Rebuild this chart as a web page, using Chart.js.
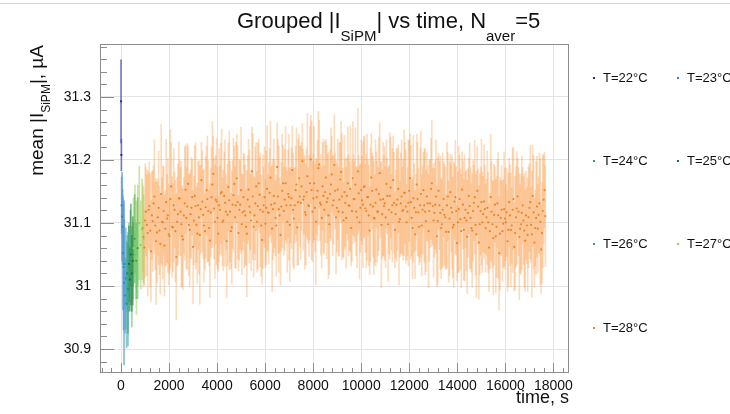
<!DOCTYPE html>
<html>
<head>
<meta charset="utf-8">
<script src="https://cdn.jsdelivr.net/npm/chart.js@4.4.1/dist/chart.umd.min.js"></script>
<style>
  body { margin: 0; background: #fff; }
  #wrap { position: relative; width: 730px; height: 414px; font-family: 'Liberation Sans', Arial, sans-serif; color: #111; }
  #plot { position: absolute; left: 0; top: 0; }
  .title { position: absolute; left: 237px; top: 10px; font-size: 22px; line-height: 22px; white-space: nowrap; }
  .title .sub { font-size: 15px; position: relative; top: 13px; }
  .ytitle { position: absolute; left: 27px; top: 245px; width: 200px; text-align: right; font-size: 19px; line-height: 19px;
            white-space: nowrap; transform: rotate(-90deg); transform-origin: 0 0; }
  .ytitle .sub { font-size: 12px; position: relative; top: 7px; }
  .xtitle { position: absolute; right: 161px; top: 388px; font-size: 18px; line-height: 18px; white-space: nowrap; }
  .leg { position: absolute; font-size: 13px; line-height: 13px; white-space: nowrap; }
  .leg i { position: absolute; left: -10px; top: 6px; width: 2px; height: 2px; }
</style>
</head>
<body>
<div id="wrap">
  <canvas id="plot" width="730" height="414"></canvas>
  <div class="title">Grouped |I<span class="sub">SiPM</span>| vs time, N<span class="sub">aver</span>=5</div>
  <div class="ytitle">mean |I<span class="sub">SiPM</span>|, µA</div>
  <div class="xtitle">time, s</div>
  <div id="legend"></div>
</div>
<script>
// T=22..27 C: short warm-up groups at the start of the run
const t22Time = [0, 15];
const t22Mean = [31.293, 31.208];
const t22Err  = [0.066, 0.025];

const t23Time = [25, 45, 65, 85, 105, 125];
const t23Mean = [31.128, 31.11, 31.094, 31.052, 31.03, 31.005];
const t23Err  = [0.045, 0.07, 0.06, 0.09, 0.10, 0.13];

const t24Time = [140, 170, 200, 230, 260, 290];
const t24Mean = [31.035, 30.985, 31.012, 30.972, 31.02, 30.995];
const t24Err  = [0.07, 0.06, 0.08, 0.07, 0.06, 0.09];

const t25Time = [250, 290, 330, 370, 410, 450, 490];
const t25Mean = [31.02, 30.995, 31.035, 31.01, 31.05, 31.02, 31.04];
const t25Err  = [0.05, 0.07, 0.06, 0.05, 0.08, 0.06, 0.07];

const t26Time = [330, 390, 450, 510, 570, 630, 690];
const t26Mean = [31.03, 31.06, 31.015, 31.05, 31.075, 31.04, 31.06];
const t26Err  = [0.07, 0.06, 0.08, 0.05, 0.07, 0.06, 0.08];

const t27Time = [520, 580, 640, 700, 760, 820, 880, 940];
const t27Mean = [31.06, 31.09, 31.045, 31.08, 31.10, 31.065, 31.09, 31.075];
const t27Err  = [0.08, 0.07, 0.09, 0.08, 0.09, 0.07, 0.08, 0.07];

// T=28 C: long run, one group every 35 s starting at 900 s
const t28Start = 900;
const t28Step = 35;
const t28Mean = [
  31.092, 31.078, 31.061, 31.104, 31.118, 31.097, 31.084, 31.121, 31.127, 31.088, 31.055, 31.112,
  31.103, 31.131, 31.142, 31.096, 31.071, 31.085, 31.109, 31.124, 31.088, 31.067, 31.146, 31.102,
  31.101, 31.119, 31.064, 31.091, 31.133, 31.107, 31.112, 31.082, 31.079, 31.138, 31.158, 31.094,
  31.093, 31.128, 31.121, 31.087, 31.046, 31.102, 31.114, 31.139, 31.139, 31.118, 31.098, 31.079,
  31.074, 31.112, 31.131, 31.153, 31.108, 31.126, 31.162, 31.097, 31.089, 31.114, 31.124, 31.141,
  31.062, 31.104, 31.143, 31.127, 31.097, 31.083, 31.128, 31.109, 31.081, 31.122, 31.168, 31.134,
  31.113, 31.096, 31.087, 31.125, 31.152, 31.138, 31.119, 31.092, 31.072, 31.117, 31.141, 31.161,
  31.178, 31.123, 31.102, 31.137, 31.134, 31.108, 31.083, 31.128, 31.121, 31.147, 31.149, 31.102,
  31.104, 31.143, 31.132, 31.118, 31.071, 31.113, 31.157, 31.136, 31.118, 31.087, 31.093, 31.129,
  31.144, 31.162, 31.109, 31.128, 31.171, 31.133, 31.084, 31.121, 31.129, 31.152, 31.098, 31.117,
  31.141, 31.119, 31.112, 31.094, 31.083, 31.137, 31.153, 31.126, 31.117, 31.104, 31.182, 31.142,
  31.094, 31.112, 31.131, 31.158, 31.102, 31.127, 31.163, 31.145, 31.121, 31.096, 31.073, 31.118,
  31.128, 31.141, 31.099, 31.124, 31.154, 31.117, 31.116, 31.148, 31.172, 31.129, 31.091, 31.122,
  31.143, 31.131, 31.108, 31.096, 31.189, 31.142, 31.122, 31.112, 31.081, 31.126, 31.151, 31.163,
  31.119, 31.137, 31.163, 31.128, 31.102, 31.146, 31.141, 31.097, 31.128, 31.139, 31.184, 31.121,
  31.107, 31.128, 31.152, 31.161, 31.093, 31.133, 31.171, 31.142, 31.132, 31.158, 31.198, 31.137,
  31.142, 31.117, 31.113, 31.149, 31.174, 31.128, 31.127, 31.163, 31.201, 31.152, 31.118, 31.139,
  31.163, 31.124, 31.102, 31.141, 31.151, 31.187, 31.193, 31.132, 31.129, 31.108, 31.158, 31.143,
  31.121, 31.149, 31.172, 31.133, 31.139, 31.112, 31.098, 31.146, 31.161, 31.177, 31.128, 31.136,
  31.192, 31.151, 31.109, 31.124, 31.153, 31.118, 31.137, 31.169, 31.181, 31.142, 31.117, 31.104,
  31.149, 31.132, 31.108, 31.143, 31.163, 31.128, 31.127, 31.154, 31.092, 31.119, 31.171, 31.138,
  31.138, 31.161, 31.118, 31.109, 31.182, 31.147, 31.101, 31.124, 31.152, 31.136, 31.129, 31.157,
  31.158, 31.123, 31.119, 31.141, 31.141, 31.112, 31.088, 31.129, 31.172, 31.151, 31.126, 31.108,
  31.107, 31.132, 31.153, 31.118, 31.118, 31.146, 31.179, 31.137, 31.097, 31.114, 31.138, 31.127,
  31.131, 31.109, 31.162, 31.143, 31.098, 31.121, 31.143, 31.156, 31.117, 31.128, 31.168, 31.132,
  31.089, 31.114, 31.129, 31.137, 31.154, 31.102, 31.106, 31.131, 31.142, 31.119, 31.121, 31.148,
  31.148, 31.126, 31.101, 31.118, 31.132, 31.151, 31.171, 31.133, 31.108, 31.092, 31.139, 31.124,
  31.082, 31.117, 31.161, 31.138, 31.117, 31.094, 31.128, 31.146, 31.096, 31.121, 31.152, 31.128,
  31.118, 31.103, 31.142, 31.131, 31.087, 31.119, 31.131, 31.154, 31.163, 31.127, 31.104, 31.116,
  31.129, 31.142, 31.079, 31.103, 31.151, 31.128, 31.116, 31.092, 31.098, 31.121, 31.138, 31.113,
  31.109, 31.086, 31.128, 31.142, 31.086, 31.107, 31.149, 31.124, 31.117, 31.093, 31.097, 31.134,
  31.141, 31.119, 31.068, 31.101, 31.122, 31.138, 31.106, 31.087, 31.153, 31.129, 31.089, 31.108,
  31.121, 31.104, 31.078, 31.116, 31.143, 31.127, 31.108, 31.092, 31.088, 31.119, 31.132, 31.141,
  31.097, 31.082, 31.151, 31.126, 31.069, 31.098, 31.119, 31.133, 31.101, 31.114, 31.134, 31.122,
  31.092, 31.109, 31.124, 31.101, 31.061, 31.087, 31.141, 31.118, 31.098, 31.076, 31.113, 31.129,
  31.079, 31.094, 31.131, 31.112, 31.052, 31.083, 31.108, 31.121, 31.087, 31.099, 31.122, 31.107,
  31.101, 31.117, 31.071, 31.089, 31.133, 31.112, 31.089, 31.096, 31.121, 31.138, 31.062, 31.084,
  31.109, 31.123, 31.142, 31.118, 31.078, 31.091, 31.098, 31.116, 31.128, 31.104, 31.088, 31.072,
  31.112, 31.096, 31.081, 31.109, 31.124, 31.133, 31.097, 31.082, 31.143, 31.117, 31.069, 31.092,
  31.108, 31.126, 31.091, 31.113, 31.131, 31.102, 31.058, 31.084, 31.119, 31.137, 31.152, 31.111
];
const t28Err = [
  0.07, 0.08, 0.06, 0.09, 0.07, 0.08, 0.10, 0.06, 0.07, 0.09, 0.08, 0.07,
  0.08, 0.06, 0.09, 0.07, 0.10, 0.08, 0.06, 0.09, 0.07, 0.08, 0.11, 0.07,
  0.09, 0.07, 0.08, 0.06, 0.10, 0.07, 0.09, 0.08, 0.06, 0.11, 0.07, 0.08,
  0.07, 0.09, 0.06, 0.08, 0.10, 0.07, 0.08, 0.09, 0.06, 0.07, 0.10, 0.08,
  0.08, 0.06, 0.09, 0.07, 0.08, 0.10, 0.06, 0.08, 0.09, 0.07, 0.08, 0.06,
  0.09, 0.07, 0.08, 0.10, 0.06, 0.08, 0.07, 0.09, 0.11, 0.07, 0.06, 0.08,
  0.07, 0.09, 0.06, 0.08, 0.07, 0.10, 0.08, 0.06, 0.09, 0.07, 0.08, 0.10,
  0.06, 0.08, 0.09, 0.07, 0.10, 0.08, 0.06, 0.09, 0.07, 0.08, 0.10, 0.07,
  0.08, 0.07, 0.10, 0.06, 0.09, 0.08, 0.07, 0.11, 0.08, 0.06, 0.09, 0.07,
  0.09, 0.06, 0.08, 0.10, 0.07, 0.09, 0.06, 0.08, 0.07, 0.10, 0.08, 0.06,
  0.07, 0.09, 0.08, 0.06, 0.10, 0.07, 0.08, 0.09, 0.06, 0.08, 0.07, 0.10,
  0.08, 0.06, 0.09, 0.07, 0.08, 0.10, 0.07, 0.06, 0.09, 0.08, 0.07, 0.09,
  0.06, 0.08, 0.07, 0.09, 0.10, 0.06, 0.08, 0.07, 0.09, 0.06, 0.10, 0.08,
  0.09, 0.07, 0.06, 0.08, 0.07, 0.09, 0.10, 0.06, 0.08, 0.07, 0.09, 0.06,
  0.07, 0.08, 0.09, 0.06, 0.08, 0.07, 0.10, 0.09, 0.06, 0.08, 0.07, 0.09,
  0.08, 0.06, 0.07, 0.09, 0.06, 0.10, 0.07, 0.08, 0.09, 0.07, 0.06, 0.08,
  0.06, 0.09, 0.08, 0.07, 0.10, 0.06, 0.08, 0.09, 0.07, 0.11, 0.08, 0.07,
  0.09, 0.07, 0.10, 0.06, 0.08, 0.09, 0.07, 0.06, 0.08, 0.08, 0.07, 0.09,
  0.07, 0.08, 0.06, 0.09, 0.07, 0.10, 0.08, 0.07, 0.09, 0.06, 0.08, 0.07,
  0.08, 0.06, 0.09, 0.07, 0.08, 0.07, 0.09, 0.06, 0.08, 0.10, 0.07, 0.06,
  0.09, 0.07, 0.08, 0.06, 0.09, 0.08, 0.07, 0.10, 0.06, 0.08, 0.09, 0.07,
  0.06, 0.09, 0.07, 0.08, 0.10, 0.06, 0.09, 0.07, 0.08, 0.07, 0.10, 0.08,
  0.08, 0.07, 0.09, 0.10, 0.06, 0.08, 0.07, 0.09, 0.07, 0.06, 0.08, 0.09,
  0.07, 0.10, 0.06, 0.08, 0.07, 0.09, 0.08, 0.06, 0.10, 0.07, 0.09, 0.08,
  0.09, 0.08, 0.07, 0.06, 0.09, 0.07, 0.10, 0.08, 0.06, 0.09, 0.07, 0.08,
  0.06, 0.07, 0.09, 0.08, 0.07, 0.10, 0.06, 0.08, 0.09, 0.07, 0.08, 0.10,
  0.08, 0.09, 0.06, 0.07, 0.10, 0.08, 0.07, 0.09, 0.06, 0.08, 0.10, 0.07,
  0.07, 0.06, 0.08, 0.09, 0.07, 0.06, 0.09, 0.10, 0.08, 0.07, 0.06, 0.09,
  0.10, 0.08, 0.07, 0.06, 0.09, 0.08, 0.07, 0.08, 0.10, 0.06, 0.09, 0.07,
  0.07, 0.09, 0.08, 0.10, 0.06, 0.07, 0.09, 0.08, 0.07, 0.09, 0.06, 0.08,
  0.08, 0.06, 0.10, 0.07, 0.08, 0.09, 0.06, 0.07, 0.09, 0.08, 0.10, 0.06,
  0.09, 0.07, 0.06, 0.08, 0.10, 0.07, 0.08, 0.09, 0.06, 0.07, 0.08, 0.10,
  0.06, 0.08, 0.09, 0.07, 0.06, 0.10, 0.08, 0.07, 0.09, 0.08, 0.06, 0.09,
  0.08, 0.10, 0.07, 0.06, 0.09, 0.08, 0.07, 0.10, 0.08, 0.06, 0.09, 0.07,
  0.07, 0.06, 0.09, 0.08, 0.07, 0.06, 0.10, 0.08, 0.07, 0.09, 0.08, 0.06,
  0.09, 0.08, 0.07, 0.10, 0.09, 0.09, 0.06, 0.07, 0.08, 0.07, 0.09, 0.08,
  0.06, 0.07, 0.08, 0.09, 0.07, 0.08, 0.09, 0.06, 0.10, 0.08, 0.07, 0.09,
  0.08, 0.09, 0.06, 0.07, 0.10, 0.07, 0.08, 0.09, 0.06, 0.07, 0.09, 0.08,
  0.07, 0.06, 0.09, 0.08, 0.07, 0.09, 0.06, 0.10, 0.08, 0.09, 0.07, 0.06,
  0.09, 0.08, 0.07, 0.06, 0.08, 0.10, 0.07, 0.08, 0.09, 0.07, 0.06, 0.08
];
const t28Time = t28Mean.map((_, i) => t28Start + i * t28Step);

// axes
const xMajorTicks = [0, 2000, 4000, 6000, 8000, 10000, 12000, 14000, 16000, 18000];
const yMajorTicks = [30.9, 31, 31.1, 31.2, 31.3];
const xRange = [-875, 18650];
const yRange = [30.862, 31.384];
const xMinorStep = 400;
const yMinorStep = 0.02;

const legendLabels = ['T=22°C', 'T=23°C', 'T=24°C', 'T=25°C', 'T=26°C', 'T=27°C', 'T=28°C'];

const pointColors = ['#23238f', '#3b7cc9', '#1f9a96', '#17703f', '#2aa84a', '#9ccc55', '#f08528'];
const barColors = ['rgba(80,80,175,0.75)', 'rgba(90,150,215,0.7)', 'rgba(60,170,165,0.6)',
                   'rgba(40,130,70,0.6)', 'rgba(70,180,90,0.55)', 'rgba(165,210,100,0.6)', 'rgba(248,150,62,0.34)'];

const groups = [
  [t22Time, t22Mean, t22Err],
  [t23Time, t23Mean, t23Err],
  [t24Time, t24Mean, t24Err],
  [t25Time, t25Mean, t25Err],
  [t26Time, t26Mean, t26Err],
  [t27Time, t27Mean, t27Err],
  [t28Time, t28Mean, t28Err]
];

const FONT = "'Liberation Sans', Arial, sans-serif";

function errorSet(times, means, errs, color) {
    return {
        type: 'bar',
        data: times.map((t, i) => ({ x: t, y: [means[i] - errs[i], means[i] + errs[i]] })),
        backgroundColor: color,
        borderWidth: 0,
        barThickness: 1,
        grouped: false,
        order: 2
    };
}

function pointSet(times, means, color) {
    return {
        type: 'scatter',
        data: times.map((t, i) => ({ x: t, y: means[i] })),
        backgroundColor: color,
        borderWidth: 0,
        pointRadius: 1.1,
        pointHoverRadius: 1.1,
        order: 1
    };
}

function stepTicks(range, step) {
    const out = [];
    const first = Math.ceil(range[0] / step - 1e-9);
    for (let k = first; k * step <= range[1] + 1e-9; k++) {
        out.push(Math.round(k * step * 1000) / 1000);
    }
    return out;
}

const isMajorX = v => xMajorTicks.includes(v);
const isMajorY = v => yMajorTicks.some(m => Math.abs(m - v) < 1e-6);

const datasets = [];
groups.forEach((g, i) => datasets.push(errorSet(g[0], g[1], g[2], barColors[i])));
groups.forEach((g, i) => datasets.push(pointSet(g[0], g[1], pointColors[i])));

// ROOT-like frame with inside ticks
const framePlugin = {
    id: 'frame',
    afterDraw(chart) {
        const { ctx, chartArea: a, scales: { x, y } } = chart;
        ctx.save();
        ctx.strokeStyle = '#d4d4d4';
        ctx.lineWidth = 1;
        ctx.beginPath();
        ctx.moveTo(0, 3.5);
        ctx.lineTo(730, 3.5);
        ctx.stroke();

        ctx.strokeStyle = '#8c8c8c';
        ctx.strokeRect(a.left + 0.5, a.top + 0.5, a.width - 1, a.height - 1);
        ctx.beginPath();
        y.ticks.forEach(t => {
            const p = Math.round(y.getPixelForValue(t.value)) + 0.5;
            const len = isMajorY(t.value) ? 14 : 7;
            ctx.moveTo(a.left, p);
            ctx.lineTo(a.left + len, p);
        });
        x.ticks.forEach(t => {
            const p = Math.round(x.getPixelForValue(t.value)) + 0.5;
            const len = isMajorX(t.value) ? 10 : 5;
            ctx.moveTo(p, a.bottom);
            ctx.lineTo(p, a.bottom - len);
        });
        ctx.stroke();
        ctx.restore();
    }
};

new Chart(document.getElementById('plot').getContext('2d'), {
    type: 'scatter',
    data: { datasets: datasets },
    options: {
        responsive: false,
        animation: false,
        layout: { padding: { left: 0, top: 44, right: 161, bottom: 0 } },
        plugins: {
            legend: { display: false },
            title: { display: false },
            tooltip: { enabled: false }
        },
        scales: {
            x: {
                type: 'linear',
                min: xRange[0],
                max: xRange[1],
                offset: false,
                afterBuildTicks: s => { s.ticks = stepTicks(xRange, xMinorStep).map(v => ({ value: v })); },
                afterFit: s => { s.height = 41; },
                ticks: {
                    autoSkip: false,
                    maxRotation: 0,
                    padding: 5,
                    color: '#111',
                    font: { family: FONT, size: 14 },
                    callback: v => isMajorX(v) ? String(v) : ''
                },
                grid: {
                    offset: false,
                    drawTicks: false,
                    color: c => (c.tick && isMajorX(c.tick.value)) ? '#e4e4e4' : 'rgba(0,0,0,0)'
                },
                border: { display: false }
            },
            y: {
                type: 'linear',
                min: yRange[0],
                max: yRange[1],
                afterBuildTicks: s => { s.ticks = stepTicks(yRange, yMinorStep).map(v => ({ value: v })); },
                afterFit: s => { s.width = 100; },
                ticks: {
                    autoSkip: false,
                    padding: 9,
                    color: '#111',
                    font: { family: FONT, size: 14 },
                    callback: v => isMajorY(v) ? String(Math.round(v * 10) / 10) : ''
                },
                grid: {
                    drawTicks: false,
                    color: c => (c.tick && isMajorY(c.tick.value)) ? '#e4e4e4' : 'rgba(0,0,0,0)'
                },
                border: { display: false }
            }
        }
    },
    plugins: [framePlugin]
});

// legend, laid out in two columns like the original
const legendPos = [[603, 71], [687, 71], [603, 154], [687, 154], [603, 237], [687, 237], [603, 321]];
const legend = document.getElementById('legend');
legendLabels.forEach((label, i) => {
    const d = document.createElement('div');
    d.className = 'leg';
    d.style.left = legendPos[i][0] + 'px';
    d.style.top = legendPos[i][1] + 'px';
    d.textContent = label;
    const m = document.createElement('i');
    m.style.background = pointColors[i];
    d.appendChild(m);
    legend.appendChild(d);
});
</script>
</body>
</html>
